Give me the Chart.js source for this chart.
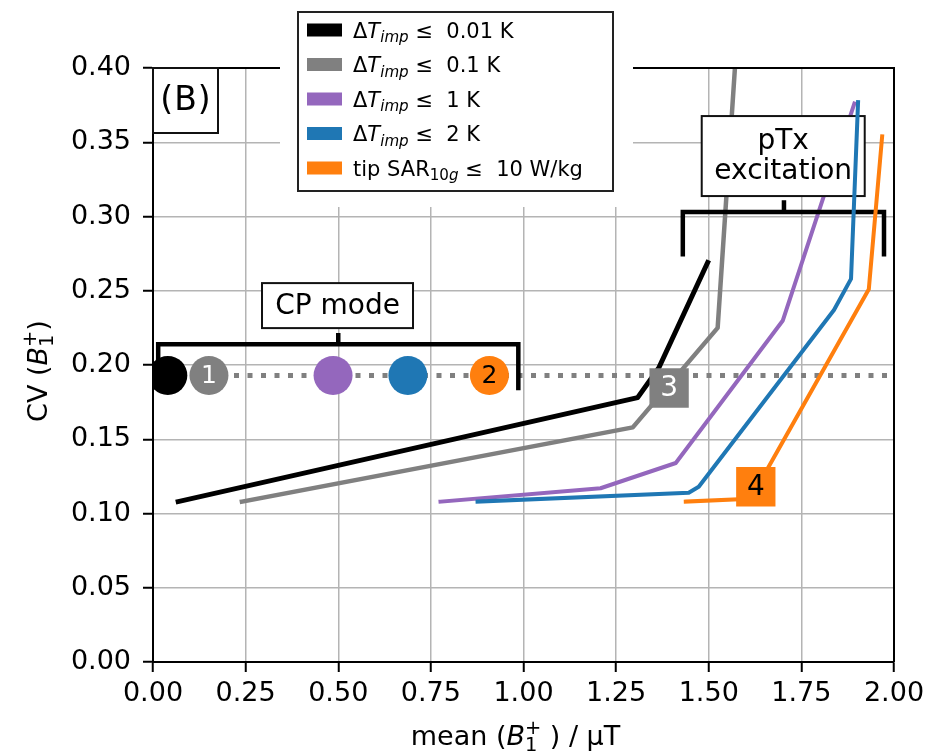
<!DOCTYPE html>
<html lang="en">
<head>
<meta charset="UTF-8">
<title>CV vs mean B1+</title>
<script src="https://cdn.jsdelivr.net/npm/chart.js"></script>
<style>
  html, body { margin: 0; padding: 0; background: #fff; }
</style>
</head>
<body>
<canvas id="cvChart" width="940" height="754"></canvas>
<script>
// ---- data ----
const seriesNames = ['ΔT_imp ≤ 0.01 K', 'ΔT_imp ≤ 0.1 K', 'ΔT_imp ≤ 1 K', 'ΔT_imp ≤ 2 K', 'tip SAR_10g ≤ 10 W/kg'];
const seriesColors = ['#000000', '#808080', '#9467bd', '#1f77b4', '#ff7f0e'];

const limit001X = [0.068, 1.308, 1.365, 1.497];
const limit001Y = [0.108, 0.178, 0.198, 0.269];
const limit01X  = [0.240, 1.295, 1.524, 1.576];
const limit01Y  = [0.108, 0.158, 0.225, 0.420];
const limit1X   = [0.776, 1.208, 1.411, 1.700, 1.893];
const limit1Y   = [0.108, 0.117, 0.134, 0.230, 0.376];
const limit2X   = [0.876, 1.446, 1.473, 1.838, 1.884, 1.903];
const limit2Y   = [0.108, 0.114, 0.118, 0.237, 0.258, 0.377];
const sarX      = [1.438, 1.613, 1.932, 1.968];
const sarY      = [0.108, 0.110, 0.251, 0.354];

// CP mode operating points (one per constraint) and the CP reference CV
const cpX = [0.040, 0.151, 0.486, 0.688, 0.908];
const cpY = [0.193, 0.193, 0.193, 0.193, 0.193];
const cpLabels = ['', '1', '', '', '2'];
const cpRefY = 0.193;

// numbered pTx points
const ptxX = [1.393, 1.627];
const ptxY = [0.1845, 0.118];
const ptxLabels = ['3', '4'];

const xTickStep = 0.25;
const yTickStep = 0.05;

// ---- drawing helpers ----
const FONT = '"DejaVu Sans", sans-serif';
const fontStr = (size, italic) => (italic ? 'italic ' : '') + size + 'px ' + FONT;

function partWidth(ctx, p, size) {
  if (p.sub !== undefined || p.sup !== undefined) {
    ctx.font = fontStr(size * 0.72, p.it);
    return Math.max(p.sub ? ctx.measureText(p.sub).width : 0, p.sup ? ctx.measureText(p.sup).width : 0);
  }
  ctx.font = fontStr(size, p.it);
  return ctx.measureText(p.t).width;
}

function drawRich(ctx, parts, x, y, size, align) {
  const widths = parts.map(p => partWidth(ctx, p, size));
  const total = widths.reduce((a, b) => a + b, 0);
  let cx = align === 'center' ? x - total / 2 : align === 'right' ? x - total : x;
  ctx.textAlign = 'left';
  ctx.textBaseline = 'alphabetic';
  parts.forEach((p, i) => {
    if (p.sub !== undefined || p.sup !== undefined) {
      ctx.font = fontStr(size * 0.72, p.it);
      if (p.sub) ctx.fillText(p.sub, cx, y + size * 0.22);
      if (p.sup) ctx.fillText(p.sup, cx, y - size * 0.42);
    } else {
      ctx.font = fontStr(size, p.it);
      ctx.fillText(p.t, cx, y);
    }
    cx += widths[i];
  });
}

const legendParts = [
  [{t: 'Δ'}, {t: 'T', it: true}, {sub: 'imp', it: true}, {t: ' ≤  0.01 K'}],
  [{t: 'Δ'}, {t: 'T', it: true}, {sub: 'imp', it: true}, {t: ' ≤  0.1 K'}],
  [{t: 'Δ'}, {t: 'T', it: true}, {sub: 'imp', it: true}, {t: ' ≤  1 K'}],
  [{t: 'Δ'}, {t: 'T', it: true}, {sub: 'imp', it: true}, {t: ' ≤  2 K'}],
  [{t: 'tip SAR'}, {sub: '10'}, {sub: 'g', it: true}, {t: ' ≤  10 W/kg'}]
];
const xTitleParts = [{t: 'mean ('}, {t: 'B', it: true}, {sub: '1', sup: '+'}, {t: ' ) / µT'}];
const yTitleParts = [{t: 'CV ('}, {t: 'B', it: true}, {sub: '1', sup: '+'}, {t: ')'}];

// brackets and text boxes, in axis units
const cpBracket = {x0: 0.014, x1: 0.986, y: 0.214, left: 0.190, right: 0.183, mid: 0.5, top: 0.2215};
const cpBox = {x: 0.498, y: 0.240, w: 151, h: 45, lines: ['CP mode']};
const ptxBracket = {x0: 1.430, x1: 1.973, y: 0.303, left: 0.273, right: 0.273, mid: 1.703, top: 0.311};
const ptxBox = {x: 1.701, y: 0.3407, w: 163, h: 80, lines: ['pTx', 'excitation']};

function drawBracket(ctx, xs, ys, b) {
  ctx.save();
  ctx.strokeStyle = '#000';
  ctx.lineWidth = 4.5;
  ctx.lineJoin = 'miter';
  ctx.lineCap = 'butt';
  ctx.beginPath();
  ctx.moveTo(xs.getPixelForValue(b.x0), ys.getPixelForValue(b.left));
  ctx.lineTo(xs.getPixelForValue(b.x0), ys.getPixelForValue(b.y));
  ctx.lineTo(xs.getPixelForValue(b.x1), ys.getPixelForValue(b.y));
  ctx.lineTo(xs.getPixelForValue(b.x1), ys.getPixelForValue(b.right));
  ctx.moveTo(xs.getPixelForValue(b.mid), ys.getPixelForValue(b.y));
  ctx.lineTo(xs.getPixelForValue(b.mid), ys.getPixelForValue(b.top));
  ctx.stroke();
  ctx.restore();
}

function drawTextBox(ctx, xs, ys, b) {
  const cx = xs.getPixelForValue(b.x), cy = ys.getPixelForValue(b.y);
  ctx.save();
  ctx.fillStyle = '#fff';
  ctx.fillRect(cx - b.w / 2, cy - b.h / 2, b.w, b.h);
  ctx.strokeStyle = '#111';
  ctx.lineWidth = 2;
  ctx.strokeRect(cx - b.w / 2, cy - b.h / 2, b.w, b.h);
  ctx.fillStyle = '#000';
  ctx.font = fontStr(28);
  ctx.textAlign = 'center';
  ctx.textBaseline = 'middle';
  const lh = 30;
  b.lines.forEach((s, i) => {
    ctx.fillText(s, cx, cy + (i - (b.lines.length - 1) / 2) * lh + 1);
  });
  ctx.restore();
}

const PURPLE_INDEX = 3;

const overlays = {
  id: 'overlays',
  afterDatasetDraw(chart, args) {
    // boxes sit above the black, grey and purple curves but below the rest
    if (args.index !== PURPLE_INDEX) return;
    const {ctx, scales: {x, y}} = chart;
    drawBracket(ctx, x, y, cpBracket);
    drawTextBox(ctx, x, y, cpBox);
    drawBracket(ctx, x, y, ptxBracket);
    drawTextBox(ctx, x, y, ptxBox);
  },
  afterDatasetsDraw(chart) {
    const {ctx, chartArea: a} = chart;
    // marker numbers
    const put = (dsIndex, texts, colors, size) => {
      const meta = chart.getDatasetMeta(dsIndex);
      meta.data.forEach((el, i) => {
        if (!texts[i]) return;
        ctx.save();
        ctx.fillStyle = colors[i];
        ctx.font = fontStr(size);
        ctx.textAlign = 'center';
        ctx.textBaseline = 'middle';
        ctx.fillText(texts[i], el.x, el.y + 1);
        ctx.restore();
      });
    };
    put(6, cpLabels, ['#fff', '#fff', '#fff', '#fff', '#000'], 25);
    put(7, ptxLabels, ['#fff', '#000'], 28);

    // top and right spines
    ctx.save();
    ctx.strokeStyle = '#000';
    ctx.lineWidth = 2;
    ctx.beginPath();
    ctx.moveTo(a.left, a.top);
    ctx.lineTo(a.right, a.top);
    ctx.lineTo(a.right, a.bottom);
    ctx.stroke();
    ctx.restore();
  },
  afterDraw(chart) {
    const {ctx, chartArea: a} = chart;
    ctx.save();
    // legend
    ctx.fillStyle = '#fff';
    ctx.fillRect(280, 0, 353, 207);
    ctx.strokeStyle = '#222';
    ctx.lineWidth = 2;
    ctx.strokeRect(298, 12, 315, 179);
    seriesColors.forEach((c, i) => {
      const cy = 30 + i * 34.5;
      ctx.fillStyle = c;
      ctx.fillRect(307, cy - 6.5, 35, 13);
      ctx.fillStyle = '#000';
      drawRich(ctx, legendParts[i], 353, cy + 7.5, 21, 'left');
    });

    // panel tag
    ctx.fillStyle = '#fff';
    ctx.fillRect(a.left, a.top, 65, 65);
    ctx.strokeStyle = '#111';
    ctx.strokeRect(a.left, a.top, 65, 65);
    ctx.fillStyle = '#000';
    ctx.font = fontStr(33);
    ctx.letterSpacing = '1px';
    ctx.textAlign = 'center';
    ctx.textBaseline = 'middle';
    ctx.fillText('(B)', a.left + 33, a.top + 33);
    ctx.letterSpacing = '0px';

    // axis titles
    ctx.fillStyle = '#000';
    drawRich(ctx, xTitleParts, (a.left + a.right) / 2 - 8, 745, 27, 'center');
    ctx.translate(47, (a.top + a.bottom) / 2 + 6);
    ctx.rotate(-Math.PI / 2);
    drawRich(ctx, yTitleParts, 0, 0, 27, 'center');
    ctx.restore();
  }
};

const toPts = (xs, ys) => xs.map((v, i) => ({x: v, y: ys[i]}));

function curve(i, xs, ys, width, order) {
  return {
    label: seriesNames[i],
    data: toPts(xs, ys),
    showLine: true,
    borderColor: seriesColors[i],
    backgroundColor: seriesColors[i],
    borderWidth: width,
    borderCapStyle: 'square',
    borderJoinStyle: 'round',
    pointRadius: 0,
    order: order
  };
}

new Chart(document.getElementById('cvChart').getContext('2d'), {
  type: 'scatter',
  data: {
    datasets: [
      {
        label: 'CP reference',
        data: [{x: 0, y: cpRefY}, {x: 2, y: cpRefY}],
        showLine: true,
        borderColor: '#808080',
        borderWidth: 5,
        borderDash: [5, 8.5],
        borderCapStyle: 'butt',
        pointRadius: 0,
        order: 20
      },
      curve(0, limit001X, limit001Y, 5, 19),
      curve(1, limit01X, limit01Y, 4.5, 18),
      curve(2, limit1X, limit1Y, 4, 17),
      curve(3, limit2X, limit2Y, 4, 15),
      curve(4, sarX, sarY, 4, 14),
      {
        label: 'CP mode',
        data: toPts(cpX, cpY),
        pointStyle: 'circle',
        pointRadius: 19.5,
        pointBorderWidth: 0,
        pointBackgroundColor: seriesColors,
        clip: 0,
        order: 2
      },
      {
        label: 'pTx',
        data: toPts(ptxX, ptxY),
        pointStyle: 'rect',
        pointRadius: 27.8,
        pointBorderWidth: 0,
        pointBackgroundColor: [seriesColors[1], seriesColors[4]],
        order: 1
      }
    ]
  },
  options: {
    responsive: false,
    animation: false,
    devicePixelRatio: 1,
    layout: {padding: {top: 68, right: 46, left: 0, bottom: 0}},
    plugins: {legend: {display: false}, tooltip: {enabled: false}},
    scales: {
      x: {
        type: 'linear',
        min: 0,
        max: 2,
        afterFit: s => { s.height = 92; },
        grid: {color: '#b4b4b4', lineWidth: 1.5, tickColor: '#000', tickLength: 10, tickWidth: 2},
        border: {color: '#000', width: 2},
        ticks: {
          stepSize: xTickStep,
          autoSkip: false,
          maxRotation: 0,
          padding: 6,
          color: '#000',
          font: {family: 'DejaVu Sans', size: 27},
          callback: v => v.toFixed(2)
        }
      },
      y: {
        type: 'linear',
        min: 0,
        max: 0.4,
        afterFit: s => { s.width = 153; },
        grid: {color: '#b4b4b4', lineWidth: 1.5, tickColor: '#000', tickLength: 10, tickWidth: 2},
        border: {color: '#000', width: 2},
        ticks: {
          stepSize: yTickStep,
          autoSkip: false,
          padding: 12,
          color: '#000',
          font: {family: 'DejaVu Sans', size: 27},
          callback: v => v.toFixed(2)
        }
      }
    }
  },
  plugins: [overlays]
});
</script>
</body>
</html>
